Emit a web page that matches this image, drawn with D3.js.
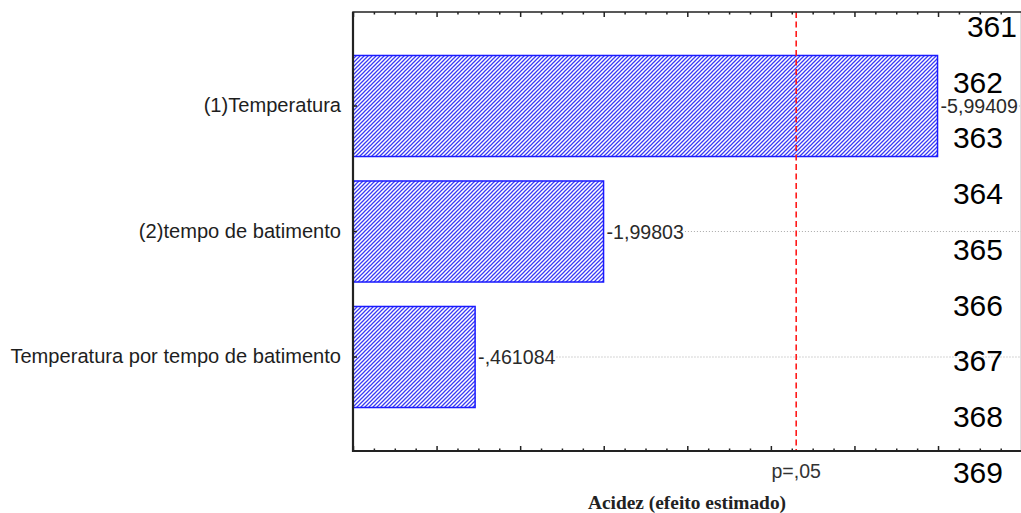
<!DOCTYPE html>
<html>
<head>
<meta charset="utf-8">
<script src="https://cdn.jsdelivr.net/npm/d3@7"></script>
<style>
  html, body { margin: 0; padding: 0; background: #fff; }
  svg { display: block; }
  .sans { font-family: "Liberation Sans", Arial, sans-serif; }
  .serif { font-family: "Liberation Serif", "Times New Roman", serif; }
</style>
</head>
<body>
<svg id="chart" width="1021" height="513"></svg>
<script>
// Pareto chart of standardized effects (Acidez)
const categories = ["(1)Temperatura", "(2)tempo de batimento", "Temperatura por tempo de batimento"];
const effects = [-5.99409, -1.99803, -0.461084];
const pCritical = 4.303;            // t critical value, p = 0.05
const pLabel = "p=,05";
const axisTitle = "Acidez (efeito estimado)";
const xDomain = [-1, 7];
const lineNumbers = [361, 362, 363, 364, 365, 366, 367, 368, 369];

const W = 1021, H = 513;
const plot = { left: 353, right: 1021.6, top: 12, bottom: 451 };

const svg = d3.select("#chart");

// Hatch fill for the bars
const defs = svg.append("defs");
const pat = defs.append("pattern")
  .attr("id", "hatch")
  .attr("patternUnits", "userSpaceOnUse")
  .attr("width", 4).attr("height", 4);
pat.append("rect").attr("width", 4).attr("height", 4).attr("fill", "#fff");
pat.append("path")
  .attr("d", "M-1,1 l2,-2 M0,4 l4,-4 M3,5 l2,-2")
  .attr("stroke", "#3a3af5").attr("stroke-width", 1.25);

const x = d3.scaleLinear().domain(xDomain).range([plot.left, plot.right]);
const y = d3.scaleBand().domain(categories)
  .range([plot.top, plot.bottom])
  .paddingInner(0.195).paddingOuter(0.3465);

// Number formatting with decimal comma and no leading zero
const fmt = v => String(v).replace(".", ",").replace(/^(-?)0,/, "$1,");

const rows = categories.map((c, i) => ({ cat: c, value: effects[i], abs: Math.abs(effects[i]) }));

// Bars
svg.append("g").selectAll("rect").data(rows).join("rect")
  .attr("x", plot.left)
  .attr("y", d => y(d.cat))
  .attr("width", d => x(d.abs) - plot.left)
  .attr("height", y.bandwidth())
  .attr("fill", "url(#hatch)")
  .attr("stroke", "#1a1aff")
  .attr("stroke-width", 1.5);

// Value labels + dotted guide lines
const lab = svg.append("g").selectAll("g").data(rows).join("g");
lab.append("text")
  .attr("class", "sans")
  .attr("x", d => x(d.abs) + 3)
  .attr("y", d => y(d.cat) + y.bandwidth() / 2)
  .attr("dy", "0.36em")
  .attr("font-size", 19.6)
  .attr("fill", "#2a2a2a")
  .text(d => fmt(d.value))
  .each(function (d) { d.labelEnd = x(d.abs) + 3 + this.getComputedTextLength(); });
lab.insert("line", "text")
  .attr("x1", d => d.labelEnd + 1)
  .attr("x2", plot.right)
  .attr("y1", d => y(d.cat) + y.bandwidth() / 2)
  .attr("y2", d => y(d.cat) + y.bandwidth() / 2)
  .attr("stroke", "#aaa")
  .attr("stroke-width", 1)
  .attr("stroke-dasharray", "1,2");

// Critical value line
svg.append("line")
  .attr("x1", x(pCritical)).attr("x2", x(pCritical))
  .attr("y1", plot.top).attr("y2", plot.bottom)
  .attr("stroke", "#ff1a1a")
  .attr("stroke-width", 1.6)
  .attr("stroke-dasharray", "6,3.5");

// Frame
svg.append("rect")
  .attr("x", plot.left).attr("y", plot.top)
  .attr("width", plot.right - plot.left).attr("height", plot.bottom - plot.top)
  .attr("fill", "none").attr("stroke", "#222").attr("stroke-width", 1.5);
svg.append("line")
  .attr("x1", plot.left).attr("x2", plot.left)
  .attr("y1", plot.top).attr("y2", plot.bottom + 1)
  .attr("stroke", "#222").attr("stroke-width", 2.2);
svg.append("line")
  .attr("x1", plot.left).attr("x2", plot.right)
  .attr("y1", plot.bottom).attr("y2", plot.bottom)
  .attr("stroke", "#222").attr("stroke-width", 2);

// Ticks on top and bottom edges (inward), quarter-unit minors
const minorTicks = d3.range(xDomain[0], xDomain[1] + 0.001, 0.25);
const isMajor = v => Math.abs(v - Math.round(v)) < 1e-6;
const topAxis = d3.axisTop(x).tickValues(minorTicks).tickFormat("")
  .tickSizeOuter(0).tickSizeInner(0);
const tg = svg.append("g").attr("transform", `translate(0,${plot.top})`).call(topAxis);
tg.select(".domain").remove();
tg.selectAll(".tick line")
  .attr("y2", v => isMajor(v) ? 5 : 2.5)
  .attr("stroke", "#222").attr("stroke-width", 1.5);
const botAxis = d3.axisBottom(x).tickValues(minorTicks).tickFormat("")
  .tickSizeOuter(0).tickSizeInner(0);
const bg = svg.append("g").attr("transform", `translate(0,${plot.bottom})`).call(botAxis);
bg.select(".domain").remove();
bg.selectAll(".tick line")
  .attr("y2", v => isMajor(v) ? -5 : -2.5)
  .attr("stroke", "#222").attr("stroke-width", 1.5);

// Category axis: labels on the left, small inward ticks
const yAxis = d3.axisLeft(y).tickSizeOuter(0).tickSizeInner(-4).tickPadding(12);
const yg = svg.append("g").attr("transform", `translate(${plot.left},0)`).call(yAxis);
yg.select(".domain").remove();
yg.selectAll(".tick line").attr("stroke", "#222").attr("stroke-width", 1.5);
yg.selectAll(".tick text")
  .attr("class", "sans")
  .attr("font-size", 20.1)
  .attr("fill", "#1e1e1e");

// Critical value label
svg.append("text")
  .attr("class", "sans")
  .attr("x", x(pCritical)).attr("y", 478)
  .attr("text-anchor", "middle")
  .attr("font-size", 19.5)
  .attr("fill", "#333")
  .text(pLabel);

// Axis title
svg.append("text")
  .attr("class", "serif")
  .attr("x", 687).attr("y", 509)
  .attr("text-anchor", "middle")
  .attr("font-size", 19.4)
  .attr("font-weight", "bold")
  .attr("fill", "#222")
  .text(axisTitle);

// Page line numbers along the right margin
svg.append("g").selectAll("text").data(lineNumbers).join("text")
  .attr("class", "sans")
  .attr("x", (d, i) => i === 0 ? 1017 : 1003)
  .attr("y", (d, i) => 37 + i * 55.7)
  .attr("text-anchor", "end")
  .attr("font-size", 30)
  .attr("fill", "#000")
  .text(d => d);
</script>
</body>
</html>
